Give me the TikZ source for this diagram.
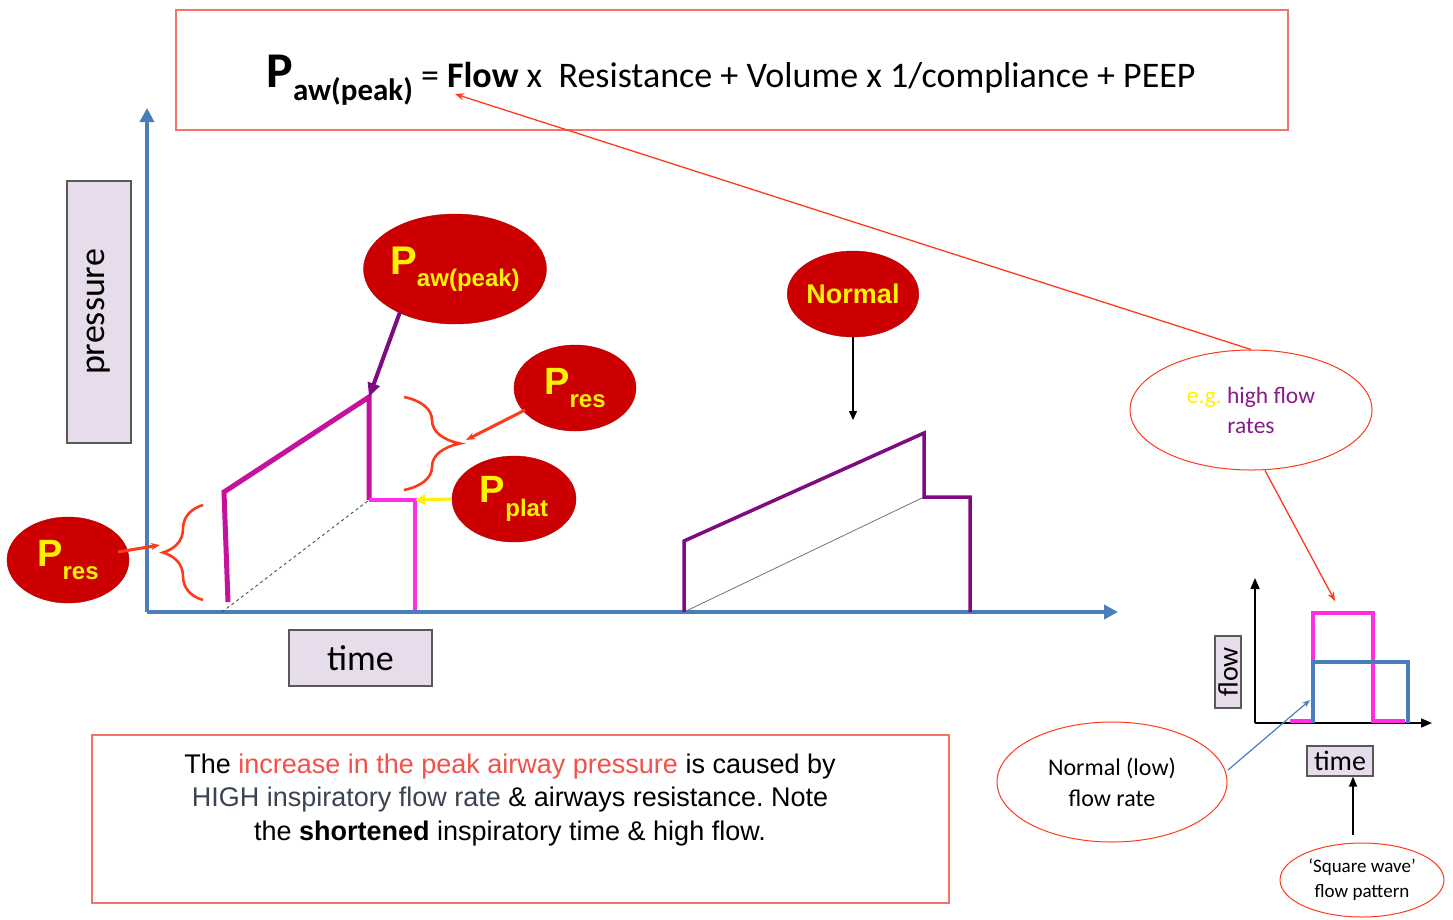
\documentclass[tikz,border=0pt]{standalone}
\usepackage{fontspec}
\setmainfont{Carlito}
\newfontfamily\arialf{Liberation Sans}
\usetikzlibrary{arrows.meta,decorations.pathreplacing,shapes.geometric}
\frenchspacing
\definecolor{boxred}{HTML}{F27468}
\definecolor{arrred}{HTML}{FF3A1A}
\definecolor{axblue}{HTML}{4A7EBB}
\definecolor{ellred}{HTML}{CC0000}
\definecolor{magA}{HTML}{C4129C}
\definecolor{magB}{HTML}{FF2EE6}
\definecolor{purp}{HTML}{7E0C80}
\definecolor{lav}{HTML}{E6DCEC}
\definecolor{txtred}{HTML}{F2504A}
\definecolor{txtgray}{HTML}{3A4450}
\definecolor{egpurp}{HTML}{8A1A8A}
\begin{document}
\begin{tikzpicture}[x=1pt,y=-1pt,
  fs/.style={font=\fontsize{#1}{#1}\selectfont},
  redball/.style={ellipse,fill=ellred,draw=ellred!85!black,inner sep=0pt,text=yellow},
  thinell/.style={ellipse,draw=arrred,line width=1pt,fill=white,inner sep=0pt,align=center},
  labbox/.style={draw=black!65,line width=1.2pt,fill=lav,inner sep=0pt},
  redarr/.style={draw=arrred,line width=1.3pt,-{Stealth[length=9pt,width=7pt]}},
  axis/.style={draw=axblue,line width=3.5pt,-{Triangle[length=14pt,width=14pt]}}]
\useasboundingbox (0,0) rectangle (1453,919);

% top formula box
\node[draw=boxred,line width=1.6pt,minimum width=1112pt,minimum height=120pt,inner sep=0pt] (topbox) at (732,70) {};
\node[fs=36,anchor=base] (formula) at (731,87) {{\fontsize{50}{50}\selectfont\bfseries P}{\fontsize{31}{31}\selectfont\bfseries\raisebox{-0.42em}{aw(peak)}} = \textbf{Flow} x\ \ Resistance + Volume x 1/compliance + PEEP};
\coordinate (fpt) at (455,94);

% bottom text box
\node[draw=boxred,line width=1.6pt,minimum width=857pt,minimum height=168pt,inner sep=0pt] (botbox) at (520.5,819) {};
\node[font=\arialf\fontsize{27}{33.5}\selectfont,align=center,anchor=north] (bottxt) at (510,750)
 {The \textcolor{txtred}{increase in the peak airway pressure} is caused by\\
  \textcolor{txtgray}{HIGH inspiratory flow rate} \& airways resistance. Note\\
  the \textbf{shortened} inspiratory time \& high flow.};

% axes
\coordinate (O) at (147,612);
\coordinate (Ytop) at (147,108);
\coordinate (Xend) at (1118,612);
\draw[axis] (O) -- (Ytop);
\draw[axis] (O) -- (Xend);

% axis labels
\node[labbox,minimum width=64pt,minimum height=262pt] (pbox) at (99,312) {};
\node[fs=36,rotate=90] (ptxt) at (pbox.center) {pressure};
\node[labbox,minimum width=143pt,minimum height=56pt] (tbox) at (360.5,658) {};
\node[fs=36] (ttxt) at (tbox.center) {time};

% high-flow waveform
\coordinate (h0) at (228,602);
\coordinate (h1) at (224,492);
\coordinate (h2) at (369,397);
\coordinate (h3) at (369,500);
\coordinate (h4) at (415,500);
\coordinate (h5) at (415,610);
\draw[black!70,dashed,line width=0.9pt] (222,612) -- (h3);
\draw[magA,line width=5pt,line join=miter] (h0) -- (h1) -- (h2) -- (h3);
\draw[magB,line width=3.5pt] (h3) -- (h4) -- (h5);

% braces
\draw[arrred,line width=2.6pt,decorate,decoration={brace,amplitude=40pt,aspect=0.5}] (203,600) -- (203,505);
\draw[arrred,line width=2.6pt,decorate,decoration={brace,amplitude=56pt,aspect=0.5}] (404,397) -- (404,490);
\coordinate (bl) at (160,545);
\coordinate (br) at (466,440);

% red balls
\node[redball,minimum width=170pt,minimum height=110pt] (paw) at (455,269)
 {\arialf\bfseries{\fontsize{40}{40}\selectfont P}{\fontsize{24}{24}\selectfont\raisebox{-0.5em}{aw(peak)}}};
\node[redball,minimum width=122pt,minimum height=86pt] (presR) at (575,388)
 {\arialf\bfseries{\fontsize{38}{38}\selectfont P}{\fontsize{24}{24}\selectfont\raisebox{-0.55em}{res}}};
\node[redball,minimum width=124pt,minimum height=86pt] (pplat) at (514,499)
 {\arialf\bfseries{\fontsize{38}{38}\selectfont P}{\fontsize{24}{24}\selectfont\raisebox{-0.55em}{plat}}};
\node[redball,minimum width=122pt,minimum height=86pt] (presL) at (68,560)
 {\arialf\bfseries{\fontsize{38}{38}\selectfont P}{\fontsize{24}{24}\selectfont\raisebox{-0.55em}{res}}};
\node[redball,minimum width=124pt,minimum height=86pt] (normal) at (853,294)
 {\arialf\bfseries\fontsize{27}{27}\selectfont Normal};

\draw[purp,line width=4pt,-{Triangle[length=14pt,width=12pt]}] (400,312) -- (h2);
\draw[redarr,line width=3pt] (525,410) -- (br);
\draw[yellow,line width=3pt,-{Triangle[length=10pt,width=10pt]}] (pplat.west) -- (h4);
\draw[redarr,line width=3pt] (118,552) -- (bl);

% normal waveform
\coordinate (n0) at (684,612);
\coordinate (n1) at (684,541);
\coordinate (n2) at (924,433);
\coordinate (n3) at (924,497);
\coordinate (n4) at (970,497);
\coordinate (n5) at (970,612);
\draw[black!55,line width=0.8pt] (n0) -- (n3);
\draw[purp,line width=3.5pt] (n0) -- (n1) -- (n2) -- (n3) -- (n4) -- (n5);
\coordinate (ntip) at (853,420);
\draw[black,line width=1.2pt,-{Triangle[length=9pt,width=8pt]}] (normal.south) -- (ntip);

% e.g. ellipse and arrow to formula
\node[thinell,minimum width=242pt,minimum height=120pt,font=\fontsize{23.5}{30}\selectfont] (eg) at (1251,410)
 {\textcolor{yellow}{e.g.} \textcolor{egpurp}{high flow}\\\textcolor{egpurp}{rates}};
\draw[redarr] (eg.north) -- (fpt);

% flow mini chart
\coordinate (fo) at (1255,723);
\coordinate (fy) at (1255,578);
\coordinate (fx) at (1432,723);
\draw[black,line width=1.5pt,-{Triangle[length=11pt,width=9pt]}] (fo) -- (fy);
\draw[black,line width=1.5pt,-{Triangle[length=11pt,width=9pt]}] (fo) -- (fx);
\draw[magB,line width=3.5pt] (1290,721) -- (1313,721) -- (1313,613) -- (1373,613) -- (1373,721) -- (1405,721);
\draw[axblue,line width=3.5pt] (1313,723) -- (1313,662) -- (1408,662) -- (1408,723);
\coordinate (magtop) at (1335,601);
\draw[redarr] (eg.south) ++(14,0) coordinate (egs) -- (magtop);

\node[labbox,minimum width=26pt,minimum height=72pt] (fbox) at (1228,672) {};
\node[fs=28,rotate=90] (ftxt) at (fbox.center) {flow};
\node[labbox,minimum width=66pt,minimum height=30pt] (tsbox) at (1340,761) {};
\node[fs=28] (tstxt) at (tsbox.center) {time};

\node[thinell,minimum width=164pt,minimum height=74pt,font=\fontsize{19}{25}\selectfont] (sq) at (1362,880)
 {`Square wave'\\flow pattern};
\draw[black,line width=1.5pt,-{Triangle[length=10pt,width=8pt]}] (1353,835) -- (tsbox.south -| 1353,835);

\node[thinell,minimum width=230pt,minimum height=120pt,font=\fontsize{24}{31}\selectfont] (nl) at (1112,782)
 {Normal (low)\\flow rate};
\coordinate (bluetip) at (1310,700);
\draw[axblue,line width=1.2pt,-{Stealth[length=8pt,width=6pt]}] (1228,770) -- (bluetip);
\end{tikzpicture}
\end{document}
